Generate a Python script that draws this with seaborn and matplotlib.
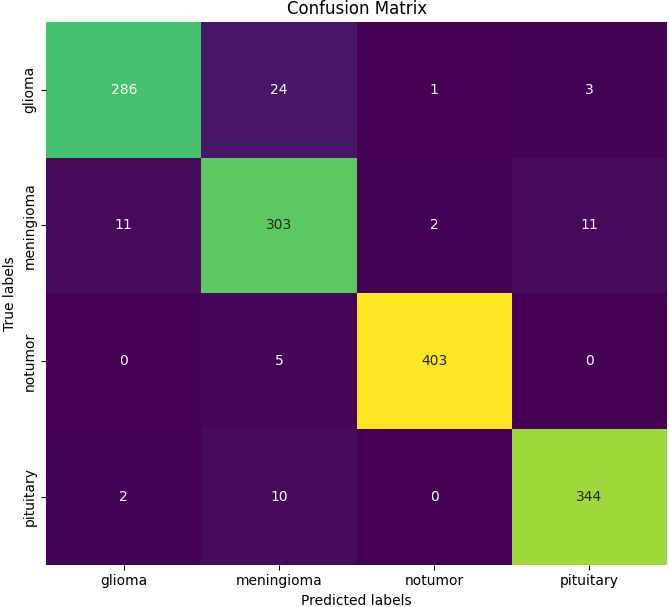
import numpy as np
import pandas as pd
import seaborn as sns
import matplotlib
matplotlib.use("Agg")
import matplotlib.pyplot as plt

labels = ["glioma", "meningioma", "notumor", "pituitary"]
row_glioma = [286, 24, 1, 3]
row_meningioma = [11, 303, 2, 11]
row_notumor = [0, 5, 403, 0]
row_pituitary = [2, 10, 0, 344]

cm = pd.DataFrame([row_glioma, row_meningioma, row_notumor, row_pituitary],
                  index=labels, columns=labels)

fig, ax = plt.subplots(figsize=(6.69, 6.07), dpi=100)
sns.heatmap(cm, annot=True, fmt="d", cmap="viridis", cbar=False, ax=ax)
ax.set_title("Confusion Matrix")
ax.set_xlabel("Predicted labels")
ax.set_ylabel("True labels")
fig.subplots_adjust(left=0.069, right=0.997, top=0.964, bottom=0.07)
fig.savefig("out.png", dpi=100)
